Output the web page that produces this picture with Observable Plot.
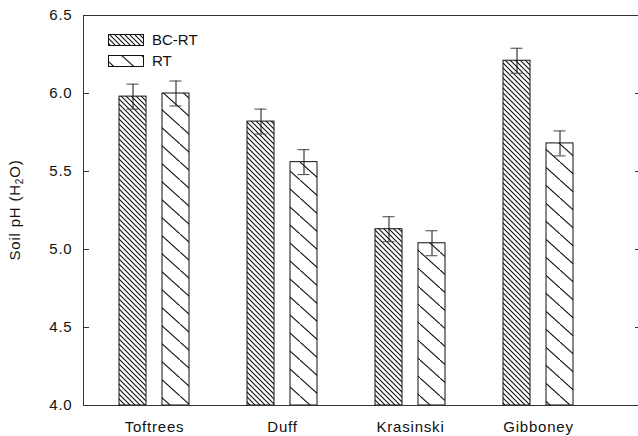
<!DOCTYPE html>
<html>
<head>
<meta charset="utf-8">
<script src="https://cdn.jsdelivr.net/npm/d3@7"></script>
<script src="https://cdn.jsdelivr.net/npm/@observablehq/plot@0.6"></script>
<style>
  html, body { margin: 0; padding: 0; background: #fff; }
  #chart svg { display: block; }
  #chart svg text { letter-spacing: 0.8px; }
</style>
</head>
<body>
<div id="chart"></div>
<script>
// Sites and treatments
const sites = ["Toftrees", "Duff", "Krasinski", "Gibboney"];
const treatments = ["BC-RT", "RT"];

// Mean soil pH (H2O) per site, with standard errors
const bcrtMean = [5.98, 5.82, 5.13, 6.21];
const bcrtErr  = [0.08, 0.08, 0.08, 0.08];
const rtMean   = [6.00, 5.56, 5.04, 5.68];
const rtErr    = [0.08, 0.08, 0.08, 0.08];

// Y axis
const yDomain = [4.0, 6.5];
const yTicks = [4.0, 4.5, 5.0, 5.5, 6.0, 6.5];

const rows = sites.flatMap((site, i) => [
  {site, trt: treatments[0], value: bcrtMean[i], err: bcrtErr[i]},
  {site, trt: treatments[1], value: rtMean[i], err: rtErr[i]}
]);
const bc = rows.filter(d => d.trt === "BC-RT");
const rt = rows.filter(d => d.trt === "RT");

const W = 638, H = 436;
const font = "'Liberation Sans', Arial, Helvetica, sans-serif";

const chart = Plot.plot({
  width: W,
  height: H,
  marginLeft: 83,
  marginRight: 0,
  marginTop: 15,
  marginBottom: 31,
  style: {fontFamily: font, fontSize: "15px", color: "#111", background: "#fff"},
  x: {type: "band", domain: sites, range: [89.5, 601.5], padding: 0, label: null},
  y: {domain: yDomain, label: null},
  marks: [
    // bars: BC-RT dense hatch, RT sparse hatch
    Plot.barY(bc, {x: "site", y1: yDomain[0], y2: "value", insetLeft: 29, insetRight: 72,
      fill: "url(#hatch-dense)", stroke: "#111", strokeWidth: 1}),
    Plot.barY(rt, {x: "site", y1: yDomain[0], y2: "value", insetLeft: 72, insetRight: 29,
      fill: "url(#hatch-sparse)", stroke: "#111", strokeWidth: 1}),
    // error bar stems
    Plot.ruleX(bc, {x: "site", y1: d => d.value - d.err, y2: d => d.value + d.err, dx: -21.5, stroke: "#111"}),
    Plot.ruleX(rt, {x: "site", y1: d => d.value - d.err, y2: d => d.value + d.err, dx: 21.5, stroke: "#111"}),
    // error bar caps
    Plot.tickY(bc, {x: "site", y: d => d.value + d.err, insetLeft: 36.5, insetRight: 79.5, stroke: "#444"}),
    Plot.tickY(bc, {x: "site", y: d => d.value - d.err, insetLeft: 36.5, insetRight: 79.5, stroke: "#444"}),
    Plot.tickY(rt, {x: "site", y: d => d.value + d.err, insetLeft: 79.5, insetRight: 36.5, stroke: "#444"}),
    Plot.tickY(rt, {x: "site", y: d => d.value - d.err, insetLeft: 79.5, insetRight: 36.5, stroke: "#444"}),
    // y axis: labels on the left, ticks pointing inward on both sides
    Plot.axisY(yTicks, {anchor: "left", tickSize: 0, tickPadding: 11, tickFormat: d3.format(".1f"),
      label: null, fontSize: 15}),
    Plot.axisY(yTicks.slice(1, -1), {anchor: "left", tickSize: -6, tickFormat: () => "", label: null, stroke: "#333"}),
    Plot.axisY(yTicks.slice(1, -1), {anchor: "right", tickSize: -4, tickFormat: () => "", label: null, stroke: "#333"}),
    Plot.axisX({anchor: "bottom", tickSize: 0, tickPadding: 16, label: null, fontSize: 15}),
    // open frame: left, top and bottom edges
    Plot.frame({anchor: "left", stroke: "#333"}),
    Plot.frame({anchor: "top", stroke: "#333"}),
    Plot.frame({anchor: "bottom", stroke: "#333"})
  ]
});

const svg = d3.select(chart);

// hatch patterns
const defs = svg.insert("defs", ":first-child");
const dense = defs.append("pattern")
  .attr("id", "hatch-dense").attr("patternUnits", "userSpaceOnUse")
  .attr("width", 5).attr("height", 5);
dense.append("rect").attr("width", 5).attr("height", 5).attr("fill", "#fff");
dense.append("path").attr("d", "M-1,-1L6,6M-1,4L1,6M4,-1L6,1")
  .attr("stroke", "#111").attr("stroke-width", 1.1);

const sparse = defs.append("pattern")
  .attr("id", "hatch-sparse").attr("patternUnits", "userSpaceOnUse")
  .attr("width", 20).attr("height", 18);
sparse.append("rect").attr("width", 20).attr("height", 18).attr("fill", "#fff");
sparse.append("path").attr("d", "M-2,-1.8L22,19.8")
  .attr("stroke", "#111").attr("stroke-width", 1.1);

// legend
const legend = svg.append("g")
  .attr("font-family", font).attr("font-size", 15).attr("text-anchor", "start");
const items = [
  {label: treatments[0], fill: "url(#hatch-dense)", y: 34},
  {label: treatments[1], fill: "url(#hatch-sparse)", y: 55}
];
for (const it of items) {
  legend.append("rect").attr("x", 108.5).attr("y", it.y + 0.5).attr("width", 35).attr("height", 11)
    .attr("fill", it.fill).attr("stroke", "#111");
  legend.append("text").attr("x", 152).attr("y", it.y + 6).attr("dy", "0.35em")
    .attr("fill", "#111").style("letter-spacing", "0px").text(it.label);
}

// y axis title with subscript
const title = svg.append("text")
  .attr("transform", "translate(20,210) rotate(-90)")
  .attr("text-anchor", "middle")
  .attr("font-family", font).attr("font-size", 15).attr("fill", "#111");
title.append("tspan").text("Soil pH (H");
title.append("tspan").attr("font-size", 10).attr("dy", 3).text("2");
title.append("tspan").attr("dy", -3).text("O)");

document.getElementById("chart").appendChild(chart);
</script>
</body>
</html>
